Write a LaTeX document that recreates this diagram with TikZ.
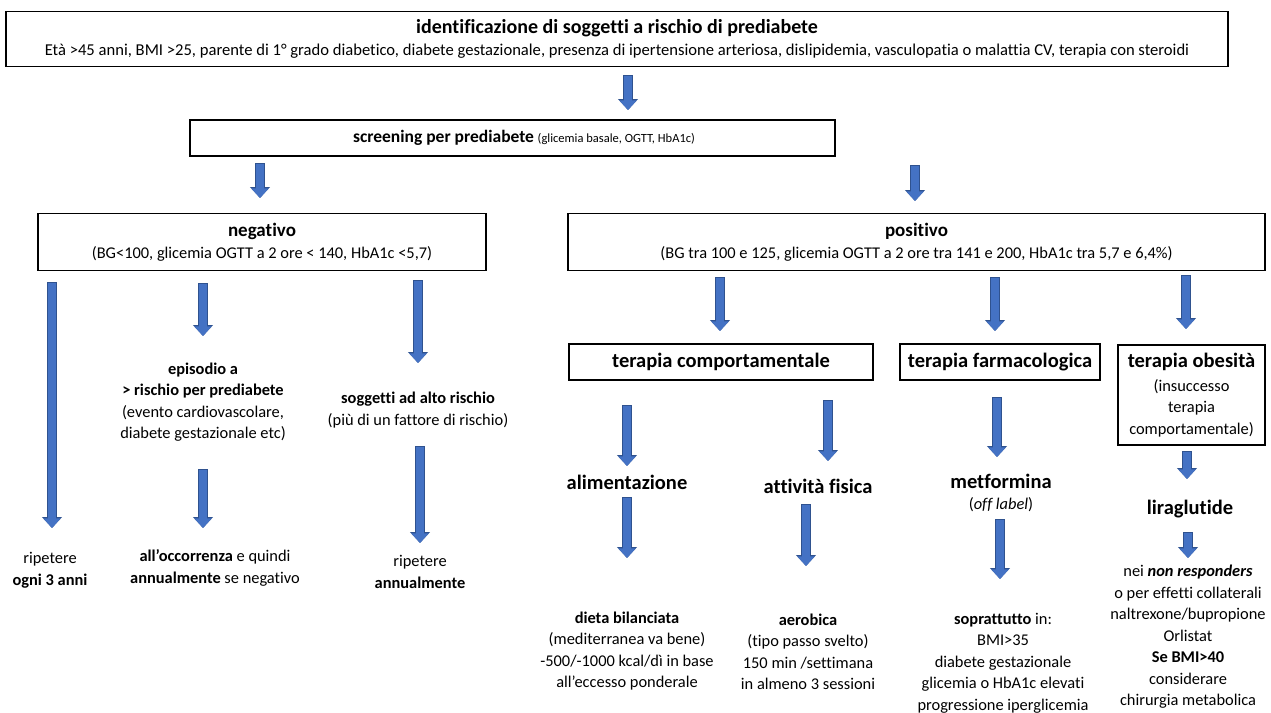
\documentclass[tikz,border=0pt]{standalone}
\usepackage{fontspec}
\setmainfont{Carlito}[Ligatures=NoCommon]
\usetikzlibrary{arrows.meta}
\definecolor{ablue}{HTML}{4472C4}
\definecolor{aedge}{HTML}{2F528F}
\newcommand{\regf}{\fontsize{16.4}{21.5}\selectfont}
\newcommand{\hb}[1]{{\fontsize{19}{21.5}\selectfont\bfseries #1}}
\newcommand{\htitle}[1]{{\fontsize{20}{21.5}\selectfont\bfseries #1}}
\newcommand{\hc}[1]{{\fontsize{20.5}{23}\selectfont\bfseries #1}}
\newcommand{\blockarrow}[2]{\draw[arrouter] (#1) -- (#2); \draw[arrinner] (#1) -- (#2);}
\tikzset{
  box/.style={draw=black, line width=1.5pt, fill=white, inner sep=0pt, align=center, font=\regf},
  txt/.style={inner sep=0pt, align=center, font=\regf},
  arrouter/.style={draw=aedge, line width=10.4pt, -{Triangle[width=19.5pt,length=11pt]}},
  arrinner/.style={draw=ablue, line width=8.4pt, shorten <=1pt, -{Triangle[width=17pt,length=9.7pt]}}
}
\begin{document}
\begin{tikzpicture}[x=1pt,y=-1pt]
\useasboundingbox (0,0) rectangle (1271,712);
\fill[white] (0,0) rectangle (1271,712);

% boxes
\node[box, minimum width=1222, minimum height=55] (ident) at (617,39)
  {\htitle{identificazione di soggetti a rischio di prediabete}\\[1pt]
   {\fontsize{16.6}{21.5}\selectfont Età >45 anni, BMI >25, parente di 1° grado diabetico, diabete gestazionale, presenza di ipertensione arteriosa, dislipidemia, vasculopatia o malattia CV, terapia con steroidi}};
\node[box, minimum width=645, minimum height=36] (screen) at (512.5,138) {};
\node[txt] (screentxt) at (524,138)
  {{\fontsize{17.5}{21}\selectfont\bfseries screening per prediabete} {\fontsize{12.5}{15}\selectfont (glicemia basale, OGTT, HbA1c)}};
\node[box, minimum width=448, minimum height=57] (neg) at (262,242)
  {\hb{negativo}\\[1pt] (BG<100, glicemia OGTT a 2 ore < 140, HbA1c <5,7)};
\node[box, minimum width=697, minimum height=57] (pos) at (916.5,242)
  {\hb{positivo}\\[1pt] (BG tra 100 e 125, glicemia OGTT a 2 ore tra 141 e 200, HbA1c tra 5,7 e 6,4\%)};
\node[box, minimum width=304, minimum height=36] (comp) at (721,362)
  {\hc{terapia comportamentale}};
\node[box, minimum width=200, minimum height=36] (farm) at (1000,362)
  {\hc{terapia farmacologica}};
\node[box, minimum width=147, minimum height=100] (obes) at (1191.5,395)
  {\hc{terapia obesità}\\[2pt] (insuccesso\\ terapia\\ comportamentale)};

% negative branch texts
\node[txt] (rip3) at (50,570) {ripetere\\ \textbf{ogni 3 anni}};
\node[txt] (episodio) at (203,402)
  {\textbf{episodio a}\\ \textbf{> rischio per prediabete}\\ (evento cardiovascolare,\\ diabete gestazionale etc)};
\node[txt] (occor) at (215,568) {\textbf{all’occorrenza} e quindi\\ \textbf{annualmente} se negativo};
\node[txt] (alto) at (418,410) {\textbf{soggetti ad alto rischio}\\ (più di un fattore di rischio)};
\node[txt] (ripann) at (420,572) {ripetere\\ \textbf{annualmente}};

% positive branch texts
\node[txt] (alim) at (627,482) {\hc{alimentazione}};
\node[txt] (attiv) at (818,486) {\hc{attività fisica}};
\node[txt] (metf) at (1001,493) {\hc{metformina}\\ (\textit{off label})};
\node[txt] (lira) at (1190,509) {\hc{liraglutide}};
\node[txt] (dieta) at (627,651)
  {\textbf{dieta bilanciata}\\ (mediterranea va bene)\\ -500/-1000 kcal/dì in base\\ all’eccesso ponderale};
\node[txt] (aero) at (808,652)
  {\textbf{aerobica}\\ (tipo passo svelto)\\ 150 min /settimana\\ in almeno 3 sessioni};
\node[txt] (sopr) at (1003,663)
  {\textbf{soprattutto} in:\\ BMI>35\\ diabete gestazionale\\ glicemia o HbA1c elevati\\ progressione iperglicemia};
\node[txt] (nonr) at (1188,637)
  {nei \textbf{\textit{non responders}}\\ o per effetti collaterali\\ naltrexone/bupropione\\ Orlistat\\ \textbf{Se BMI>40}\\ considerare\\ chirurgia metabolica};

% arrow end points
\coordinate (a1s) at (628,75);   \coordinate (a1e) at (628,110);
\coordinate (a2s) at (260,163);  \coordinate (a2e) at (260,198);
\coordinate (a3s) at (915,165);  \coordinate (a3e) at (915,201);
\coordinate (n1s) at (52,282);   \coordinate (n1e) at (52,528);
\coordinate (n2s) at (203,283);  \coordinate (n2e) at (203,336);
\coordinate (n3s) at (418,280);  \coordinate (n3e) at (418,363);
\coordinate (n4s) at (203,469);  \coordinate (n4e) at (203,528);
\coordinate (n5s) at (420,446);  \coordinate (n5e) at (420,543);
\coordinate (p1s) at (720,277);  \coordinate (p1e) at (720,331);
\coordinate (p2s) at (995,277);  \coordinate (p2e) at (995,331);
\coordinate (p3s) at (1186,275); \coordinate (p3e) at (1186,329);
\coordinate (c1s) at (627,405);  \coordinate (c1e) at (627,466);
\coordinate (c2s) at (828,400);  \coordinate (c2e) at (828,461);
\coordinate (f1s) at (997,397);  \coordinate (f1e) at (997,457);
\coordinate (o1s) at (1187,451); \coordinate (o1e) at (1187,479);
\coordinate (c3s) at (627,497);  \coordinate (c3e) at (627,558);
\coordinate (c4s) at (806,504);  \coordinate (c4e) at (806,566);
\coordinate (f2s) at (1000,519); \coordinate (f2e) at (1000,579);
\coordinate (o2s) at (1188,532); \coordinate (o2e) at (1188,558);

\foreach \a in {a1,a2,a3,n1,n2,n3,n4,n5,p1,p2,p3,c1,c2,f1,o1,c3,c4,f2,o2}{
  \blockarrow{\a s}{\a e}
}
\end{tikzpicture}
\end{document}
